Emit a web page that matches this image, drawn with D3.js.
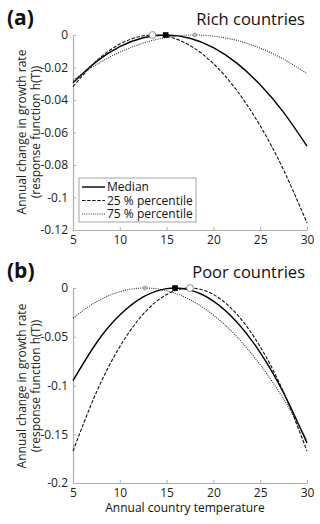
<!DOCTYPE html>
<html><head><meta charset="utf-8">
<script src="https://cdn.jsdelivr.net/npm/d3@7"></script>
<style>body{margin:0;background:#fff}svg{display:block}</style>
</head><body>
<script>
// ---- data ----
const temps = [5, 7.5, 10, 12.5, 15, 17.5, 20, 22.5, 25, 27.5, 30];
const richMedian = [-0.0294, -0.0164, -0.0072, -0.0017, 0.0000, -0.0020, -0.0078, -0.0173, -0.0306, -0.0476, -0.0684];
const rich25 = [-0.0318, -0.0160, -0.0056, -0.0005, -0.0008, -0.0065, -0.0176, -0.0341, -0.0559, -0.0831, -0.1157];
const rich75 = [-0.0279, -0.0182, -0.0106, -0.0050, -0.0015, 0.0000, -0.0007, -0.0033, -0.0081, -0.0149, -0.0238];
const poorMedian = [-0.0950, -0.0564, -0.0278, -0.0092, -0.0006, -0.0020, -0.0134, -0.0348, -0.0662, -0.1076, -0.1590];
const poor25 = [-0.1672, -0.1070, -0.0602, -0.0268, -0.0067, 0.0000, -0.0067, -0.0268, -0.0602, -0.1070, -0.1672];
const poor75 = [-0.0308, -0.0141, -0.0038, 0.0000, -0.0028, -0.0120, -0.0277, -0.0499, -0.0787, -0.1139, -0.1556];
// optimum temperatures (markers): median, 25 %, 75 %
const richPeaks = [14.9, 13.5, 18.0];
const poorPeaks = [15.9, 17.5, 12.7];
const xTicks = [5, 10, 15, 20, 25, 30];
const richYTicks = [0, -0.02, -0.04, -0.06, -0.08, -0.1, -0.12];
const poorYTicks = [0, -0.05, -0.1, -0.15, -0.2];
const seriesNames = ["Median", "25 % percentile", "75 % percentile"];

const W = 320, H = 524;
const svg = d3.select("body").append("svg").attr("width", W).attr("height", H);
const FONT = "Open Sans, Noto Sans, DejaVu Sans, sans-serif";
const styles = [
  {stroke: "#000", width: 1.4, dash: null},
  {stroke: "#111", width: 1.1, dash: "3.5,1.6"},
  {stroke: "#333", width: 1.1, dash: "1,1.2"}
];

const x = d3.scaleLinear().domain([5, 30]).range([73, 307]);

function panel(opts) {
  const y = d3.scaleLinear().domain(opts.yDomain).range(opts.yRange);
  const g = svg.append("g");
  const ax = g.append("g").attr("transform", `translate(0,${opts.yRange[0]})`)
    .call(d3.axisBottom(x).tickValues(xTicks).tickSizeInner(-3).tickSizeOuter(0).tickPadding(5));
  const ay = g.append("g").attr("transform", `translate(${x.range()[0]},0)`)
    .call(d3.axisLeft(y).tickValues(opts.yTicks).tickFormat(d => d === 0 ? "0" : String(d)).tickSizeInner(-3).tickSizeOuter(0).tickPadding(5));
  [ax, ay].forEach(a => {
    a.select(".domain").attr("stroke", "#b0b0b0").attr("stroke-width", 1.2);
    a.selectAll(".tick line").attr("stroke", "#b0b0b0");
    a.selectAll(".tick text").attr("fill", "#222").attr("font-size", 12).attr("font-family", FONT);
  });
  const line = d3.line().x((d, i) => x(temps[i])).y(d => y(d)).curve(d3.curveNatural);
  opts.series.forEach((s, k) => {
    g.append("path").attr("d", line(s)).attr("fill", "none")
      .attr("stroke", styles[k].stroke).attr("stroke-width", styles[k].width)
      .attr("stroke-dasharray", styles[k].dash);
  });
  const [pm, p25, p75] = opts.peaks;
  g.append("rect").attr("x", x(pm) - 2.8).attr("y", y(0) - 2.8).attr("width", 5.6).attr("height", 5.6).attr("fill", "#000");
  g.append("circle").attr("cx", x(p25)).attr("cy", y(0)).attr("r", 3.4).attr("fill", "#fff").attr("stroke", "#777").attr("stroke-width", 0.8);
  g.append("circle").attr("cx", x(p75)).attr("cy", y(0)).attr("r", 2).attr("fill", "#bbb").attr("stroke", "#888").attr("stroke-width", 0.6);
  svg.append("text").attr("x", 7).attr("y", opts.labelY).text(opts.label)
    .attr("font-family", FONT).attr("font-weight", "bold").attr("font-size", 21).attr("fill", "#111");
  svg.append("text").attr("x", 305).attr("y", opts.titleY).attr("text-anchor", "end").text(opts.title)
    .attr("font-family", FONT).attr("font-size", 16.5).attr("fill", "#111");
  const cy = opts.yLabelCenter;
  const yl = svg.append("text").attr("transform", `translate(26,${cy}) rotate(-90)`)
    .attr("text-anchor", "middle").attr("font-family", FONT).attr("font-size", 12).attr("fill", "#222");
  yl.append("tspan").attr("x", 0).attr("dy", 0).text("Annual change in growth rate");
  yl.append("tspan").attr("x", 0).attr("dy", 14).text("(response function h(T))");
  return {g, y};
}

panel({yDomain: [-0.12, 0], yRange: [230, 35], yTicks: richYTicks,
  series: [richMedian, rich25, rich75], peaks: richPeaks,
  label: "(a)", labelY: 25, title: "Rich countries", titleY: 25, yLabelCenter: 132});
panel({yDomain: [-0.2, 0], yRange: [483, 288], yTicks: poorYTicks,
  series: [poorMedian, poor25, poor75], peaks: poorPeaks,
  label: "(b)", labelY: 278, title: "Poor countries", titleY: 278, yLabelCenter: 386});

// legend in panel (a)
const lg = svg.append("g").attr("transform", "translate(79,178)");
lg.append("rect").attr("width", 117).attr("height", 44).attr("fill", "#fff").attr("stroke", "#999").attr("stroke-width", 0.9);
seriesNames.forEach((n, k) => {
  const yy = 9 + k * 13.5;
  lg.append("line").attr("x1", 3).attr("x2", 26).attr("y1", yy).attr("y2", yy)
    .attr("stroke", styles[k].stroke).attr("stroke-width", styles[k].width).attr("stroke-dasharray", styles[k].dash);
  lg.append("text").attr("x", 28).attr("y", yy + 4.3).text(n)
    .attr("font-family", FONT).attr("font-size", 12).attr("fill", "#111");
});

svg.append("text").attr("x", 185).attr("y", 512).attr("text-anchor", "middle").text("Annual country temperature")
  .attr("font-family", FONT).attr("font-size", 12).attr("fill", "#111");
</script>
</body></html>
